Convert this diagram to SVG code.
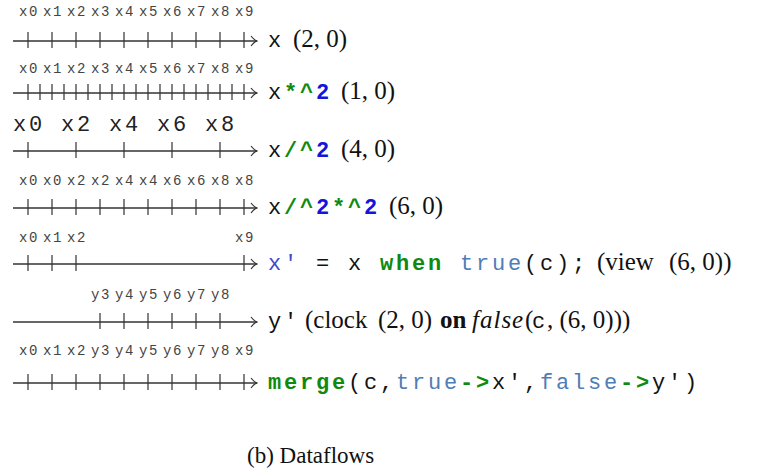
<svg xmlns="http://www.w3.org/2000/svg" width="764" height="474" viewBox="0 0 764 474">
<style>
.ax{stroke:#333;stroke-width:1.3;fill:none}
.tk{stroke:#333;stroke-width:1.2;fill:none}
.lb{font-family:"Liberation Mono",monospace;font-size:14px;letter-spacing:1.6px;fill:#444;text-anchor:middle}
.lbb{font-family:"Liberation Mono",monospace;font-size:22px;letter-spacing:2.8px;fill:#222;text-anchor:middle}
.m{font-family:"Liberation Mono",monospace;font-size:22px;letter-spacing:2.8px;fill:#111}
.b{font-weight:bold}
.g{fill:#0f8a0f}
.bl{fill:#1414dc}
.xp{fill:#4646c8}
.tr{fill:#4f7db5}
.s{font-family:"Liberation Serif",serif;font-size:25px;fill:#111}
.cap{font-family:"Liberation Serif",serif;font-size:23px;fill:#111}
</style>
<defs>
<marker id="ah" viewBox="0 0 8 12" refX="7" refY="6" markerWidth="8" markerHeight="12" markerUnits="userSpaceOnUse" orient="auto">
<path d="M1,1 Q4,5 7,6 Q4,7 1,11" fill="none" stroke="#333" stroke-width="1.2"/>
</marker>
</defs>
<g id="connectors">
<line class="ax" x1="13" y1="41" x2="257" y2="41" marker-end="url(#ah)"/>
<line class="ax" x1="13" y1="93" x2="257" y2="93" marker-end="url(#ah)"/>
<line class="ax" x1="13" y1="151" x2="257" y2="151" marker-end="url(#ah)"/>
<line class="ax" x1="13" y1="208" x2="257" y2="208" marker-end="url(#ah)"/>
<line class="ax" x1="13" y1="264" x2="257" y2="264" marker-end="url(#ah)"/>
<line class="ax" x1="13" y1="322" x2="257" y2="322" marker-end="url(#ah)"/>
<line class="ax" x1="13" y1="383" x2="257" y2="383" marker-end="url(#ah)"/>
</g>
<g id="row1">
<path class="tk" d="M28,32V48M52,32V48M76,32V48M100,32V48M124,32V48M148,32V48M172,32V48M196,32V48M220,32V48M244,32V48"/>
<text class="lb" y="16"><tspan x="29">x0</tspan><tspan x="53">x1</tspan><tspan x="77">x2</tspan><tspan x="101">x3</tspan><tspan x="125">x4</tspan><tspan x="149">x5</tspan><tspan x="173">x6</tspan><tspan x="197">x7</tspan><tspan x="221">x8</tspan><tspan x="245">x9</tspan></text>
<text class="m" x="268" y="47">x</text>
<text class="s" x="293" y="47">(2, 0)</text>
</g>
<g id="row2">
<path class="tk" d="M28,84V100M40,84V100M52,84V100M64,84V100M76,84V100M88,84V100M100,84V100M112,84V100M124,84V100M136,84V100M148,84V100M160,84V100M172,84V100M184,84V100M196,84V100M208,84V100M220,84V100M232,84V100M244,84V100"/>
<text class="lb" y="73"><tspan x="29">x0</tspan><tspan x="53">x1</tspan><tspan x="77">x2</tspan><tspan x="101">x3</tspan><tspan x="125">x4</tspan><tspan x="149">x5</tspan><tspan x="173">x6</tspan><tspan x="197">x7</tspan><tspan x="221">x8</tspan><tspan x="245">x9</tspan></text>
<text class="m" x="268" y="99">x<tspan class="b g">*^</tspan><tspan class="b bl">2</tspan></text>
<text class="s" x="341" y="99">(1, 0)</text>
</g>
<g id="row3">
<path class="tk" d="M28,142V158M76,142V158M124,142V158M172,142V158M220,142V158"/>
<text class="lbb" y="131"><tspan x="29">x0</tspan><tspan x="77">x2</tspan><tspan x="125">x4</tspan><tspan x="173">x6</tspan><tspan x="221">x8</tspan></text>
<text class="m" x="268" y="157">x<tspan class="b g">/^</tspan><tspan class="b bl">2</tspan></text>
<text class="s" x="341" y="157">(4, 0)</text>
</g>
<g id="row4">
<path class="tk" d="M28,199V215M52,199V215M76,199V215M100,199V215M124,199V215M148,199V215M172,199V215M196,199V215M220,199V215M244,199V215"/>
<text class="lb" y="185"><tspan x="29">x0</tspan><tspan x="53">x0</tspan><tspan x="77">x2</tspan><tspan x="101">x2</tspan><tspan x="125">x4</tspan><tspan x="149">x4</tspan><tspan x="173">x6</tspan><tspan x="197">x6</tspan><tspan x="221">x8</tspan><tspan x="245">x8</tspan></text>
<text class="m" x="268" y="214">x<tspan class="b g">/^</tspan><tspan class="b bl">2</tspan><tspan class="b g">*^</tspan><tspan class="b bl">2</tspan></text>
<text class="s" x="389" y="214">(6, 0)</text>
</g>
<g id="row5">
<path class="tk" d="M28,255V271M52,255V271M76,255V271M244,255V271"/>
<text class="lb" y="242"><tspan x="29">x0</tspan><tspan x="53">x1</tspan><tspan x="77">x2</tspan><tspan x="245">x9</tspan></text>
<text class="m" x="268" y="270"><tspan class="xp">x'</tspan> = x <tspan class="b g">when</tspan> <tspan class="tr">true</tspan>(c);</text>
<text class="s" y="270"><tspan x="597">(view</tspan><tspan x="669">(6, 0))</tspan></text>
</g>
<g id="row6">
<path class="tk" d="M100,313V329M124,313V329M148,313V329M172,313V329M196,313V329M220,313V329"/>
<text class="lb" y="299"><tspan x="101">y3</tspan><tspan x="125">y4</tspan><tspan x="149">y5</tspan><tspan x="173">y6</tspan><tspan x="197">y7</tspan><tspan x="221">y8</tspan></text>
<text class="m" x="268" y="328">y'</text>
<text class="s" y="328"><tspan x="305">(clock</tspan><tspan x="378">(2, 0)</tspan><tspan x="440" font-weight="bold">on</tspan><tspan x="472" font-style="italic" letter-spacing="1">false</tspan><tspan x="525">(</tspan></text>
<text class="m" x="532" y="328">c</text>
<text class="s" x="547" y="328">, (6, 0)))</text>
</g>
<g id="row7">
<path class="tk" d="M28,374V390M52,374V390M76,374V390M100,374V390M124,374V390M148,374V390M172,374V390M196,374V390M220,374V390M244,374V390"/>
<text class="lb" y="355"><tspan x="29">x0</tspan><tspan x="53">x1</tspan><tspan x="77">x2</tspan><tspan x="101">y3</tspan><tspan x="125">y4</tspan><tspan x="149">y5</tspan><tspan x="173">y6</tspan><tspan x="197">y7</tspan><tspan x="221">y8</tspan><tspan x="245">x9</tspan></text>
<text class="m" x="268" y="389"><tspan class="b g">merge</tspan>(c,<tspan class="tr">true</tspan><tspan class="b g">-&gt;</tspan>x',<tspan class="tr">false</tspan><tspan class="b g">-&gt;</tspan>y')</text>
</g>
<g id="caption">
<text class="cap" x="247" y="463">(b) Dataflows</text>
</g>
</svg>
